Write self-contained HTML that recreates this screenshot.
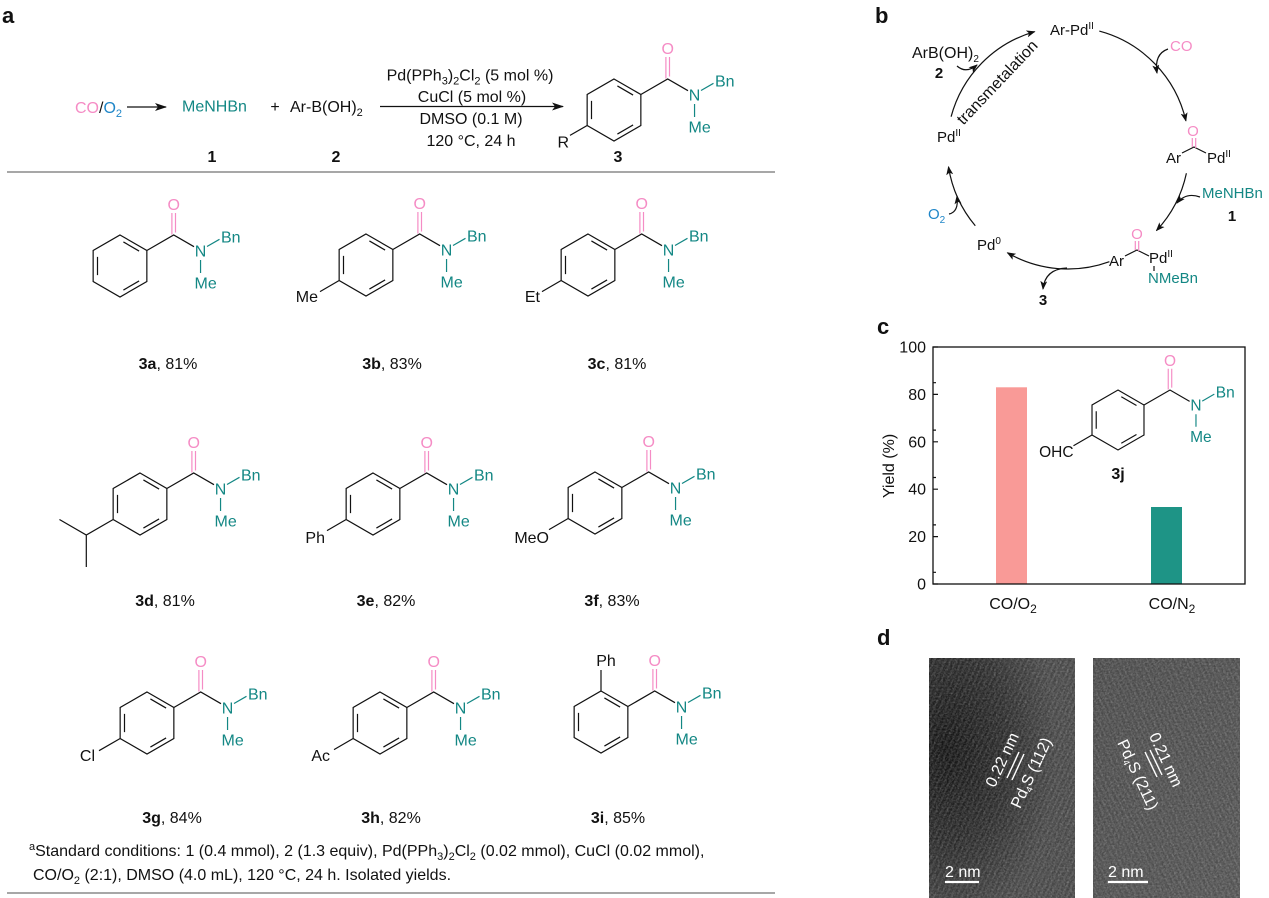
<!DOCTYPE html>
<html><head><meta charset="utf-8">
<style>
html,body{margin:0;padding:0;background:#fff}
svg{display:block}
text{font-family:"Liberation Sans",Arial,sans-serif;font-size:16px;fill:#111}
.m{text-anchor:middle}
.e{text-anchor:end}
.b{font-weight:bold}
.pk{fill:#f58cc5}
.tl{fill:#138784}
.bl{fill:#1f86c8}
.lbl{font-size:22px;font-weight:bold}
.cb{font-size:15px}
.w{fill:#fff}
</style></head>
<body>
<svg width="1269" height="898" viewBox="0 0 1269 898" xmlns="http://www.w3.org/2000/svg">
<defs>
<marker id="ah" markerWidth="12" markerHeight="8" refX="11" refY="4" orient="auto" markerUnits="userSpaceOnUse"><path d="M0,0 L12,4 L0,8 L3,4 Z" fill="#111"/></marker>
<marker id="as" markerWidth="9" markerHeight="7" refX="8" refY="3.5" orient="auto" markerUnits="userSpaceOnUse"><path d="M0,0 L9,3.5 L0,7 L2.2,3.5 Z" fill="#111"/></marker>
<g id="am" fill="none" stroke="#111" stroke-width="1.2">
<polygon points="0,-31 26.85,-15.5 26.85,15.5 0,31 -26.85,15.5 -26.85,-15.5"/>
<path d="M3.4,-24.05L19.1,-14.95M-22.5,-9.1L-22.5,9.1M19.1,14.95L3.4,24.05M26.85,-15.5L53.7,-31L74,-19.3"/>
<path stroke="#f58cc5" d="M51.9,-31.5V-53M55.5,-33.5V-53"/>
<path stroke="#138784" d="M87,-19.5L99.5,-26.7M80.55,-6V7"/>
</g>
<filter id="nz" x="0" y="0" width="1" height="1"><feTurbulence type="fractalNoise" baseFrequency="0.55" numOctaves="2" seed="7"/><feColorMatrix type="matrix" values="0 0 0 0 1  0 0 0 0 1  0 0 0 0 1  0.45 0.45 0.45 0 -0.55"/></filter>
<filter id="nz2" x="0" y="0" width="1" height="1"><feTurbulence type="fractalNoise" baseFrequency="0.5" numOctaves="2" seed="19"/><feColorMatrix type="matrix" values="0 0 0 0 0  0 0 0 0 0  0 0 0 0 0  -0.45 -0.45 -0.45 0 0.85"/></filter>
<radialGradient id="dk" cx="0.12" cy="0.38" r="0.75"><stop offset="0" stop-color="#0e0e0e" stop-opacity="0.9"/><stop offset="0.55" stop-color="#151515" stop-opacity="0.55"/><stop offset="1" stop-color="#151515" stop-opacity="0"/></radialGradient>
<linearGradient id="g2" x1="0" y1="0" x2="1" y2="1"><stop offset="0" stop-color="#4e4e4e"/><stop offset="1" stop-color="#585858"/></linearGradient>
<pattern id="fr1" width="5" height="5" patternUnits="userSpaceOnUse" patternTransform="rotate(25)"><rect width="2" height="5" fill="#fff" opacity="0.07"/></pattern>
<pattern id="fr2" width="5" height="5" patternUnits="userSpaceOnUse" patternTransform="rotate(-25)"><rect width="2" height="5" fill="#fff" opacity="0.06"/></pattern>
</defs>

<!-- ============ Panel a ============ -->
<text class="lbl" x="2" y="23">a</text>

<!-- scheme -->
<text x="75" y="113"><tspan class="pk">CO</tspan><tspan>/</tspan><tspan class="bl">O</tspan><tspan class="bl" font-size="11" dy="4">2</tspan></text>
<line x1="127" y1="107" x2="166" y2="107" stroke="#111" stroke-width="1.2" marker-end="url(#ah)"/>
<text class="tl" x="182" y="111.5">MeNHBn</text>
<text class="m" x="275" y="112">+</text>
<text x="290" y="112">Ar-B(OH)<tspan font-size="11" dy="4">2</tspan></text>
<line x1="380" y1="106.5" x2="563" y2="106.5" stroke="#111" stroke-width="1.2" marker-end="url(#ah)"/>
<text class="m" x="470" y="80.5">Pd(PPh<tspan font-size="11" dy="4">3</tspan><tspan dy="-4">)</tspan><tspan font-size="11" dy="4">2</tspan><tspan dy="-4">Cl</tspan><tspan font-size="11" dy="4">2</tspan><tspan dy="-4"> (5 mol %)</tspan></text>
<text class="m" x="472" y="102">CuCl (5 mol %)</text>
<text class="m" x="471" y="124">DMSO (0.1 M)</text>
<text class="m" x="471" y="146">120 °C, 24 h</text>
<text class="m b" x="212" y="162">1</text>
<text class="m b" x="336" y="162">2</text>
<text class="m b" x="618" y="162">3</text>
<g transform="translate(614,110)">
<use href="#am"/>
<path d="M-26.85,15.5L-44,25.4" stroke="#111" stroke-width="1.2"/>
<text class="e" x="-45" y="37.5">R</text>
<text class="m pk" x="53.7" y="-56">O</text>
<text class="m tl" x="80.55" y="-9.7">N</text>
<text class="tl" x="101" y="-23.5">Bn</text>
<text class="tl" x="74.5" y="22.5">Me</text>
</g>
<line x1="7" y1="172" x2="775" y2="172" stroke="#8a8a8a" stroke-width="1.5"/>

<!-- 3a -->
<g transform="translate(120,266)">
<use href="#am"/>
<text class="m pk" x="53.7" y="-56">O</text><text class="m tl" x="80.55" y="-9.7">N</text><text class="tl" x="101" y="-23.5">Bn</text><text class="tl" x="74.5" y="22.5">Me</text>
</g>
<text class="m" x="168" y="369"><tspan class="b">3a</tspan>, 81%</text>
<!-- 3b -->
<g transform="translate(366,265)">
<use href="#am"/>
<path d="M-26.85,15.5L-46,26.6" stroke="#111" stroke-width="1.2"/>
<text class="e" x="-48" y="37">Me</text>
<text class="m pk" x="53.7" y="-56">O</text><text class="m tl" x="80.55" y="-9.7">N</text><text class="tl" x="101" y="-23.5">Bn</text><text class="tl" x="74.5" y="22.5">Me</text>
</g>
<text class="m" x="392" y="369"><tspan class="b">3b</tspan>, 83%</text>
<!-- 3c -->
<g transform="translate(588,265)">
<use href="#am"/>
<path d="M-26.85,15.5L-46,26.6" stroke="#111" stroke-width="1.2"/>
<text class="e" x="-48" y="37">Et</text>
<text class="m pk" x="53.7" y="-56">O</text><text class="m tl" x="80.55" y="-9.7">N</text><text class="tl" x="101" y="-23.5">Bn</text><text class="tl" x="74.5" y="22.5">Me</text>
</g>
<text class="m" x="617" y="369"><tspan class="b">3c</tspan>, 81%</text>

<!-- 3d -->
<g transform="translate(140,504)">
<use href="#am"/>
<path d="M-26.85,15.5L-53.7,31L-80.55,15.5M-53.7,31V63" stroke="#111" stroke-width="1.2" fill="none"/>
<text class="m pk" x="53.7" y="-56">O</text><text class="m tl" x="80.55" y="-9.7">N</text><text class="tl" x="101" y="-23.5">Bn</text><text class="tl" x="74.5" y="22.5">Me</text>
</g>
<text class="m" x="165" y="606"><tspan class="b">3d</tspan>, 81%</text>
<!-- 3e -->
<g transform="translate(373,504)">
<use href="#am"/>
<path d="M-26.85,15.5L-46,26.6" stroke="#111" stroke-width="1.2"/>
<text class="e" x="-48" y="39">Ph</text>
<text class="m pk" x="53.7" y="-56">O</text><text class="m tl" x="80.55" y="-9.7">N</text><text class="tl" x="101" y="-23.5">Bn</text><text class="tl" x="74.5" y="22.5">Me</text>
</g>
<text class="m" x="386" y="606"><tspan class="b">3e</tspan>, 82%</text>
<!-- 3f -->
<g transform="translate(595,503)">
<use href="#am"/>
<path d="M-26.85,15.5L-46,26.6" stroke="#111" stroke-width="1.2"/>
<text class="e" x="-46" y="40">MeO</text>
<text class="m pk" x="53.7" y="-56">O</text><text class="m tl" x="80.55" y="-9.7">N</text><text class="tl" x="101" y="-23.5">Bn</text><text class="tl" x="74.5" y="22.5">Me</text>
</g>
<text class="m" x="612" y="606"><tspan class="b">3f</tspan>, 83%</text>

<!-- 3g -->
<g transform="translate(147,723)">
<use href="#am"/>
<path d="M-26.85,15.5L-48,27.7" stroke="#111" stroke-width="1.2"/>
<text class="e" x="-52" y="38">Cl</text>
<text class="m pk" x="53.7" y="-56">O</text><text class="m tl" x="80.55" y="-9.7">N</text><text class="tl" x="101" y="-23.5">Bn</text><text class="tl" x="74.5" y="22.5">Me</text>
</g>
<text class="m" x="172" y="823"><tspan class="b">3g</tspan>, 84%</text>
<!-- 3h -->
<g transform="translate(380,723)">
<use href="#am"/>
<path d="M-26.85,15.5L-46,26.6" stroke="#111" stroke-width="1.2"/>
<text class="e" x="-50" y="38">Ac</text>
<text class="m pk" x="53.7" y="-56">O</text><text class="m tl" x="80.55" y="-9.7">N</text><text class="tl" x="101" y="-23.5">Bn</text><text class="tl" x="74.5" y="22.5">Me</text>
</g>
<text class="m" x="391" y="823"><tspan class="b">3h</tspan>, 82%</text>
<!-- 3i -->
<g transform="translate(601,722)">
<use href="#am"/>
<path d="M0,-31V-52" stroke="#111" stroke-width="1.2"/>
<text class="m" x="5" y="-56">Ph</text>
<text class="m pk" x="53.7" y="-56">O</text><text class="m tl" x="80.55" y="-9.7">N</text><text class="tl" x="101" y="-23.5">Bn</text><text class="tl" x="74.5" y="22.5">Me</text>
</g>
<text class="m" x="618" y="823"><tspan class="b">3i</tspan>, 85%</text>

<!-- footnote -->
<text x="29" y="856" font-size="16.5"><tspan font-size="11" dy="-6">a</tspan><tspan dy="6">Standard conditions: 1 (0.4 mmol), 2 (1.3 equiv), Pd(PPh</tspan><tspan font-size="11" dy="4">3</tspan><tspan dy="-4">)</tspan><tspan font-size="11" dy="4">2</tspan><tspan dy="-4">Cl</tspan><tspan font-size="11" dy="4">2</tspan><tspan dy="-4"> (0.02 mmol), CuCl (0.02 mmol),</tspan></text>
<text x="33" y="880" font-size="16.5">CO/O<tspan font-size="11" dy="4">2</tspan><tspan dy="-4"> (2:1), DMSO (4.0 mL), 120 °C, 24 h. Isolated yields.</tspan></text>
<line x1="7" y1="893" x2="775" y2="893" stroke="#8a8a8a" stroke-width="1.5"/>

<!-- ============ Panel b ============ -->
<text class="lbl" x="875" y="23">b</text>
<g fill="none" stroke="#111" stroke-width="1.2">
<path d="M951.1,116.7 A121,121 0 0 1 1034.6,31.7" marker-end="url(#as)"/>
<path d="M1099.3,31.1 A121,121 0 0 1 1185.9,120.8" marker-end="url(#as)"/>
<path d="M1186.4,173.2 A121,121 0 0 1 1156.5,230.5" marker-end="url(#as)"/>
<path d="M1109.4,261.7 A121,121 0 0 1 1007.5,252.8" marker-end="url(#as)"/>
<path d="M975.3,225.8 A121,121 0 0 1 948.5,166.9" marker-end="url(#as)"/>
<path d="M957,66 Q966,74 977,65" marker-end="url(#as)"/>
<path d="M1168,49 Q1154,54 1157,73" marker-end="url(#as)"/>
<path d="M1200,197 Q1186,192 1177,203" marker-end="url(#as)"/>
<path d="M949,214 Q959,212 957,196" marker-end="url(#as)"/>
<path d="M1067,268 Q1045,269 1043,289" marker-end="url(#as)"/>
<path d="M1182,153L1194,147L1206,153"/>
<path d="M1125,256L1137,250L1149,256M1154,266V271"/>
<path stroke="#f58cc5" d="M1192.3,138V147M1195.7,138V148M1135.3,241V250M1138.7,241V251"/>
</g>
<text class="cb" x="1050" y="35">Ar-Pd<tspan font-size="10" dy="-6">II</tspan></text>
<text x="912" y="58" font-size="14.5">ArB(OH)<tspan font-size="10" dy="4">2</tspan></text>
<text class="m b cb" x="939" y="78">2</text>
<text class="m" font-size="14" x="1001" y="86" transform="rotate(-46.5 1001 86)">transmetalation</text>
<text class="cb pk" x="1170" y="51">CO</text>
<text class="m cb pk" x="1193" y="136">O</text>
<text class="e cb" x="1181" y="163">Ar</text>
<text class="cb" x="1207" y="163">Pd<tspan font-size="10" dy="-6">II</tspan></text>
<text class="cb tl" x="1202" y="198">MeNHBn</text>
<text class="m b cb" x="1232" y="221">1</text>
<text class="m cb pk" x="1137" y="239">O</text>
<text class="e cb" x="1124" y="266">Ar</text>
<text class="cb" x="1149" y="263">Pd<tspan font-size="10" dy="-6">II</tspan></text>
<text class="cb tl" x="1148" y="283">NMeBn</text>
<text class="m b cb" x="1043" y="305">3</text>
<text class="cb" x="977" y="250">Pd<tspan font-size="10" dy="-6">0</tspan></text>
<text class="cb bl" x="928" y="219">O<tspan font-size="10" dy="4">2</tspan></text>
<text class="cb" x="937" y="142">Pd<tspan font-size="10" dy="-6">II</tspan></text>

<!-- ============ Panel c ============ -->
<text class="lbl" x="877" y="334">c</text>
<rect x="996" y="387.3" width="31" height="196.7" fill="#f99a97"/>
<rect x="1151" y="507" width="31" height="77" fill="#1e9486"/>
<rect x="933" y="347" width="312" height="237" fill="none" stroke="#111" stroke-width="1.3"/>
<path d="M933,584H938M933,536.6H938M933,489.2H938M933,441.8H938M933,394.4H938M933,347H938M933,572.3H936M933,524.9H936M933,477.5H936M933,430.1H936M933,382.7H936" stroke="#111" stroke-width="1.2"/>
<text class="e" x="926" y="589.5">0</text>
<text class="e" x="926" y="542.1">20</text>
<text class="e" x="926" y="494.7">40</text>
<text class="e" x="926" y="447.3">60</text>
<text class="e" x="926" y="399.9">80</text>
<text class="e" x="926" y="352.5">100</text>
<text class="m" font-size="18" x="894" y="466" transform="rotate(-90 894 466)">Yield (%)</text>
<text class="m" font-size="17" x="1013" y="609">CO/O<tspan font-size="12" dy="4">2</tspan></text>
<text class="m" font-size="17" x="1172" y="609">CO/N<tspan font-size="12" dy="4">2</tspan></text>
<g transform="translate(1118,420) scale(0.968)">
<use href="#am"/>
<path d="M-26.85,15.5L-46,26.6" stroke="#111" stroke-width="1.2"/>
<text class="e" x="-46" y="38">OHC</text>
<text class="m pk" x="53.7" y="-56">O</text><text class="m tl" x="80.55" y="-9.7">N</text><text class="tl" x="101" y="-23.5">Bn</text><text class="tl" x="74.5" y="22.5">Me</text>
</g>
<text class="m b" x="1118" y="479">3j</text>

<!-- ============ Panel d ============ -->
<text class="lbl" x="877" y="645">d</text>
<rect x="929" y="658" width="146" height="240" fill="#4b4b4b"/>
<rect x="929" y="658" width="146" height="240" fill="url(#dk)"/>
<rect x="929" y="658" width="146" height="240" fill="url(#fr1)"/>
<rect x="929" y="658" width="146" height="240" filter="url(#nz)" opacity="0.55"/>
<rect x="929" y="658" width="146" height="240" filter="url(#nz2)" opacity="0.35"/>
<rect x="1093" y="658" width="147" height="240" fill="url(#g2)"/>
<rect x="1093" y="658" width="147" height="240" fill="url(#fr2)"/>
<rect x="1093" y="658" width="147" height="240" filter="url(#nz)" opacity="0.55"/>
<rect x="1093" y="658" width="147" height="240" filter="url(#nz2)" opacity="0.35"/>
<path d="M1007,778L1019,752M1012,780L1024,754M1145,752L1157,777M1150,750L1162,775" stroke="#fff" stroke-width="1.4"/>
<text class="m w" font-size="13" x="1007" y="762" transform="rotate(-65 1007 762)">0.22 nm</text>
<text class="m w" font-size="13" x="1036" y="775" transform="rotate(-65 1036 775)">Pd<tspan font-size="9" dy="3">4</tspan><tspan dy="-3">S (112)</tspan></text>
<text class="m w" font-size="13" x="1161" y="762" transform="rotate(65 1161 762)">0.21 nm</text>
<text class="m w" font-size="13" x="1133" y="777" transform="rotate(65 1133 777)">Pd<tspan font-size="9" dy="3">4</tspan><tspan dy="-3">S (211)</tspan></text>
<text class="w" x="945" y="877">2 nm</text>
<line x1="945" y1="882" x2="979" y2="882" stroke="#fff" stroke-width="2.2"/>
<text class="w" x="1108" y="877">2 nm</text>
<line x1="1108" y1="882" x2="1148" y2="882" stroke="#fff" stroke-width="2.2"/>
</svg>
</body></html>
